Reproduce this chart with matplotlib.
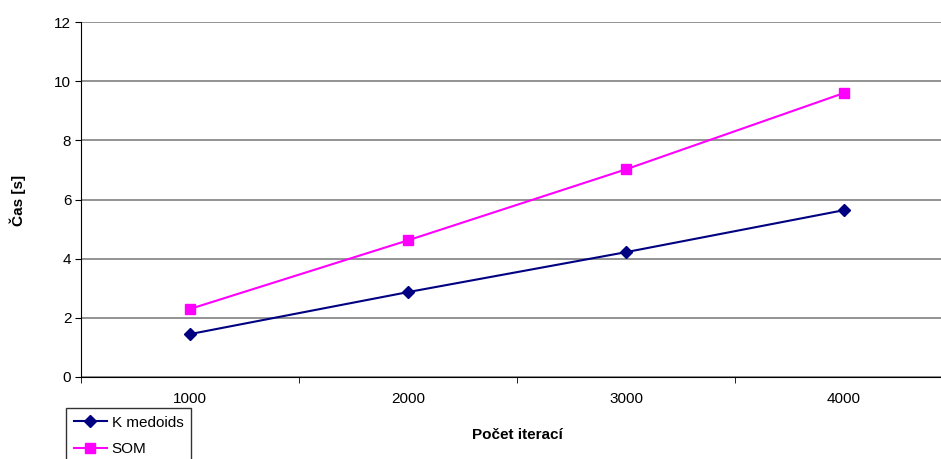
import matplotlib
matplotlib.use("Agg")
import matplotlib.pyplot as plt
import matplotlib.ticker as mticker

plt.rcParams["font.family"] = ["Liberation Sans", "DejaVu Sans"]

# ── Data ──────────────────────────────────────────────────────────────────────
iterations = ["1000", "2000", "3000", "4000"]
k_medoids = [1.45, 2.87, 4.22, 5.64]
som = [2.30, 4.62, 7.02, 9.60]

KM_C = "#000080"
SOM_C = "#ff00ff"
GRID_C = "#808080"
FS = 11

W, H = 941, 459
fig = plt.figure(figsize=(W / 100, H / 100), dpi=100)
ax = fig.add_axes([81 / W, 1 - 377 / H, (953 - 81) / W, 355 / H])

x = list(range(1, len(iterations) + 1))
ax.plot(x, k_medoids, color=KM_C, lw=1.5, marker="D", ms=6, label="K medoids", zorder=3)
ax.plot(x, som, color=SOM_C, lw=1.5, marker="s", ms=7, label="SOM", zorder=3)

# ── Axes ──────────────────────────────────────────────────────────────────────
ax.set_xlim(0.5, len(iterations) + 0.5)
ax.set_ylim(0, 12)
ax.yaxis.set_major_locator(mticker.MultipleLocator(2))
ax.set_xticks(x)
ax.set_xticklabels(iterations)
ax.set_xticks([i + 0.5 for i in range(len(iterations) + 1)], minor=True)
ax.tick_params(axis="x", which="major", length=0, pad=11, labelsize=FS)
ax.tick_params(axis="x", which="minor", length=4, direction="out", color="black")
ax.tick_params(axis="y", length=4, direction="out", labelsize=FS, pad=3)
ax.grid(axis="y", color=GRID_C, lw=1.2)
ax.set_axisbelow(True)
for s in ["top", "right"]:
    ax.spines[s].set_visible(False)
ax.spines["left"].set_color("black")
ax.spines["bottom"].set_color("black")

fig.text(18 / W, 1 - 200 / H, "Čas [s]", ha="center", va="center", rotation=90,
         fontweight="bold", fontsize=FS)
fig.text(517 / W, 1 - 435 / H, "Počet iterací", ha="center", va="center",
         fontweight="bold", fontsize=FS)

# ── Legend ────────────────────────────────────────────────────────────────────
leg = fig.legend(loc="upper left", bbox_to_anchor=(66 / W, 1 - 408 / H),
                 frameon=True, fancybox=False, edgecolor="black", fontsize=FS,
                 handlelength=2.2, handletextpad=0.3, borderaxespad=0,
                 borderpad=0.5, labelspacing=0.8)
leg.get_frame().set_linewidth(1.0)

fig.savefig("out.png", dpi=100)
